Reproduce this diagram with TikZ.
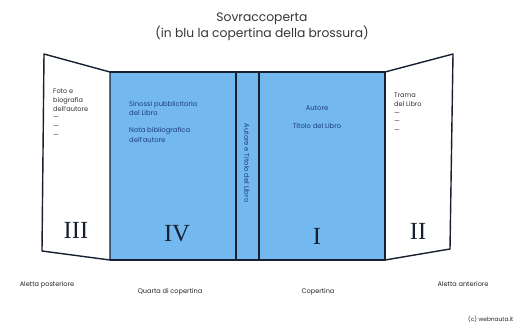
\documentclass[tikz,border=0pt]{standalone}
\usepackage{fontspec}
\setmainfont{Poppins}
\newfontfamily\numfont{Liberation Serif}
\usetikzlibrary{positioning}
\definecolor{coverblue}{RGB}{116,184,240}
\definecolor{inkline}{RGB}{22,32,48}
\definecolor{inkblue}{RGB}{28,62,120}
\definecolor{inkgrey}{RGB}{90,90,90}
\tikzset{%
	outline/.style  = {draw=inkline, line width=1.2pt, line join=round}, % bordi
	cover/.style    = {fill=coverblue}, % copertina brossura
	title/.style    = {align=center, font=\fontsize{10.5}{12}\selectfont, text=inkgrey!60!black},
	flaptext/.style = {align=left, anchor=north west, inner sep=0pt, font=\fontsize{5.6}{7.4}\selectfont, text=inkgrey!50!black},
	covertext/.style= {align=left, inner sep=0pt, font=\fontsize{5.8}{7.8}\selectfont, text=inkblue},
	numeral/.style  = {font=\numfont\fontsize{21}{21}\selectfont, text=inkline},
	caption/.style  = {font=\fontsize{5.6}{7}\selectfont, text=inkgrey!40!black},
}
\begin{document}
\begin{tikzpicture}[x=0.03cm, y=-0.03cm, node distance = 4pt]
	\useasboundingbox (0,0) rectangle (525,325);
	% angoli dei pannelli
	\coordinate (lt) at (44,54);
	\coordinate (lb) at (42,251);
	\coordinate (bt) at (110,72);
	\coordinate (bb) at (110,260);
	\coordinate (st) at (236,72);
	\coordinate (sb) at (236,260);
	\coordinate (ft) at (259,72);
	\coordinate (fb) at (259,260);
	\coordinate (ct) at (385,72);
	\coordinate (cb) at (385,260);
	\coordinate (rt) at (453,54);
	\coordinate (rb) at (450,249);
	% pannelli
	\fill[cover] (bt) rectangle (cb);
	\draw[outline] (lt) -- (bt) -- (bb) -- (lb) -- cycle;
	\draw[outline] (bt) -- (ct) -- (cb) -- (bb);
	\draw[outline] (st) -- (sb);
	\draw[outline] (ft) -- (fb);
	\draw[outline] (ct) -- (rt) -- (rb) -- (cb);
	% titolo
	\node[title] (title) at (262,27) {Sovraccoperta\\(in blu la copertina della brossura)};
	% aletta posteriore
	\node[flaptext] (foto) at (53,89) {Foto e\\biografia\\dell'autore\\—\\—\\—};
	\node[numeral] (III) at (76,230) {III};
	% quarta di copertina
	\node[covertext, anchor=north west] (sinossi) at (129,101) {Sinossi pubblicitaria\\del Libro};
	\node[covertext, below=10pt of sinossi.south west, anchor=north west] (nota) {Nota bibliografica\\dell'autore};
	\node[numeral] (IV) at (177,234) {IV};
	% dorso
	\node[covertext, rotate=-90] (dorso) at (247,163) {Autore e Titolo del Libro};
	% copertina
	\node[covertext] (autore) at (317,108) {Autore};
	\node[covertext, below=11pt of autore] (titolo) {Titolo del Libro};
	\node[numeral] (I) at (317,236) {I};
	% aletta anteriore
	\node[flaptext] (trama) at (394,93) {Trama\\del Libro\\—\\—\\—};
	\node[numeral] (II) at (418,231) {II};
	% didascalie
	\node[caption] (alpost) at (47,285) {Aletta posteriore};
	\node[caption] (quarta) at (170,292) {Quarta di copertina};
	\node[caption] (copert) at (318,292) {Copertina};
	\node[caption] (alant) at (463,284) {Aletta anteriore};
	\node[caption, anchor=west, font=\fontsize{5}{6}\selectfont] (credit) at (464,319) {(c) webnauta.it};
\end{tikzpicture}
\end{document}
